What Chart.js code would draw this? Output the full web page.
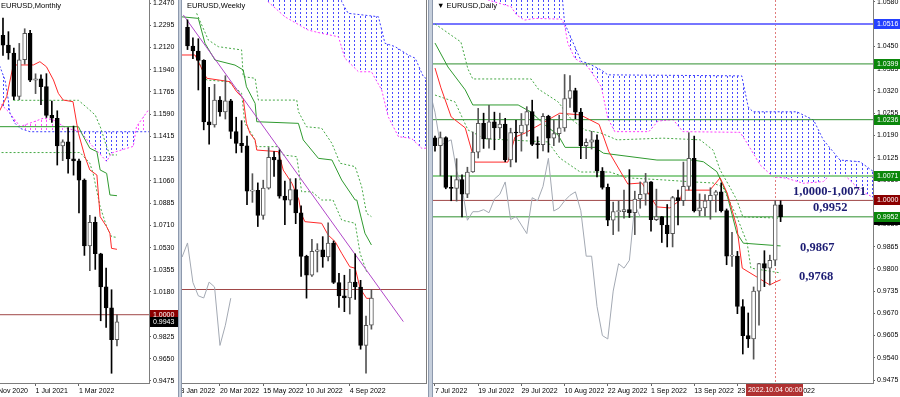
<!DOCTYPE html>
<html>
<head>
<meta charset="utf-8">
<script src="https://cdn.jsdelivr.net/npm/chart.js@4.4.0/dist/chart.umd.min.js"></script>
<style>
html, body { margin: 0; padding: 0; background: #fff; }
#wrap { position: relative; width: 900px; height: 397px; overflow: hidden; background: #fff; }
canvas { position: absolute; top: 0; }
#cM { left: 0; }
#cW { left: 182px; }
#cD { left: 433px; }
.sep { position: absolute; top: 0; height: 397px; background: #c6cfdc; border-left: 1px solid #8d99ad; border-right: 1px solid #8d99ad; box-sizing: border-box; }
</style>
</head>
<body>
<div id="wrap">
  <canvas id="cM" width="178" height="397"></canvas>
  <div class="sep" style="left:178px;width:4px"></div>
  <canvas id="cW" width="246" height="397"></canvas>
  <div class="sep" style="left:428px;width:5px"></div>
  <canvas id="cD" width="467" height="397"></canvas>
</div>
<script>
// ---------- monthly (index 0 = Jan 2021) ----------
const mOpen  = [1.2214,1.2136,1.2074,1.1729,1.2020,1.2229,1.1858,1.1870,1.1808,1.1579,1.1557,1.1338,1.1370,1.1235,1.1219,1.1067,1.0545,1.0733,1.0483,1.0220,1.0054,0.9802];
const mHigh  = [1.2350,1.2243,1.2113,1.2150,1.2266,1.2254,1.1909,1.1900,1.1910,1.1692,1.1616,1.1386,1.1483,1.1495,1.1233,1.1076,1.0787,1.0774,1.0487,1.0369,1.0198,0.9999];
const mLow   = [1.2055,1.2024,1.1704,1.1704,1.1986,1.1847,1.1752,1.1664,1.1563,1.1524,1.1186,1.1221,1.1121,1.1106,1.0806,1.0470,1.0349,1.0359,0.9952,0.9899,0.9536,0.9752];
const mClose = [1.2136,1.2074,1.1729,1.2020,1.2229,1.1858,1.1870,1.1808,1.1579,1.1557,1.1338,1.1370,1.1235,1.1219,1.1067,1.0545,1.0733,1.0483,1.0220,1.0054,0.9802,0.9943];
const mTenkan  = [[-1,1.1590],[-0.55,1.1622],[0.68,1.1728],[1.9,1.1979],[5.6,1.1979],[6.8,1.2005],[8.0,1.1965],[9.3,1.1860],[10.2,1.1754],[11.1,1.1701],[12.9,1.1688],[13.9,1.1438],[15.1,1.1252],[16.0,1.1147],[17.3,1.1107],[17.9,1.0777],[19.1,1.0697],[19.7,1.0645],[20.0,1.0526],[21,1.0518]];
const mKijun   = [[-1,1.1490],[13.9,1.1490],[14.5,1.1437],[16.0,1.1319],[17.3,1.1292],[17.9,1.1147],[19.1,1.1120],[19.7,1.0949],[21,1.0943]];
const mDashUp  = [[1.9,1.1699],[13.9,1.1699],[15.5,1.1640],[17.0,1.1582],[18.0,1.1480],[19.1,1.1331],[19.7,1.1266],[21,1.1266]];
const mDashLow = [[-1,1.1285],[14.2,1.1285],[16.0,1.1200],[16.6,1.1120],[17.9,1.0856],[19.1,1.0697],[20.0,1.0618],[21,1.0613]];
const mSpanA   = [[-1,1.2000],[-0.55,1.1965],[0.37,1.1860],[0.98,1.1701],[1.29,1.1596],[2.2,1.1517],[3.13,1.1477],[4.97,1.1450],[28,1.1450]];
const mSpanB   = [[-1,1.1685],[-0.55,1.1675],[1.29,1.1597],[3.13,1.1491],[4.97,1.1518],[7.43,1.1557],[9.27,1.1544],[11.7,1.1478],[14.2,1.1452],[16.0,1.1360],[19.1,1.1215],[20.0,1.1281],[24.0,1.1334],[24.6,1.1491],[26.8,1.1623],[28,1.1640]];
const mLevels  = [1.0000];
const mTickIdx  = [-2, 6, 14];
const mTickText = ['1 Nov 2020', '1 Jul 2021', '1 Mar 2022'];
const mPriceTicks = [1.2470,1.2295,1.2120,1.1940,1.1765,1.1590,1.1415,1.1235,1.1060,1.0885,1.0710,1.0530,1.0355,1.0180,1.0000,0.9825,0.9650,0.9475];
const mTagValues = [1.0000, 0.9943];

// ---------- weekly (index 0 = 6 Feb 2022) ----------
const wOpen  = [1.1453,1.1350,1.1322,1.1270,1.0929,1.0912,1.1050,1.0984,1.1046,1.0876,1.0810,1.0797,1.0545,1.0550,1.0410,1.0562,1.0733,1.0719,1.0518,1.0495,1.0554,1.0425,1.0184,1.0080,1.0211,1.0220,1.0180,1.0258,1.0039,0.9965,0.9953,1.0041,1.0014,0.9690,0.9802];
const wHigh  = [1.1495,1.1395,1.1390,1.1274,1.1121,1.1137,1.1069,1.1185,1.1054,1.0955,1.0936,1.0850,1.0642,1.0591,1.0606,1.0787,1.0764,1.0774,1.0601,1.0614,1.0615,1.0464,1.0190,1.0278,1.0254,1.0293,1.0369,1.0269,1.0090,1.0079,1.0112,1.0198,1.0051,0.9853,0.9999];
const wLow   = [1.1330,1.1280,1.1106,1.0885,1.0806,1.0900,1.0961,1.0945,1.0837,1.0757,1.0760,1.0470,1.0483,1.0349,1.0389,1.0556,1.0627,1.0506,1.0359,1.0469,1.0365,1.0072,0.9952,1.0073,1.0097,1.0123,1.0159,1.0033,0.9900,0.9877,0.9864,0.9945,0.9669,0.9536,0.9780];
const wClose = [1.1350,1.1322,1.1270,1.0929,1.0912,1.1050,1.0984,1.1046,1.0876,1.0810,1.0797,1.0545,1.0550,1.0410,1.0562,1.0733,1.0719,1.0518,1.0495,1.0554,1.0425,1.0184,1.0080,1.0211,1.0220,1.0180,1.0258,1.0039,0.9965,0.9953,1.0041,1.0014,0.9690,0.9802,0.9952];
const wTenkan  = [[-1.2,1.1300],[1.39,1.1300],[2.31,1.1244],[3.55,1.1171],[7.86,1.1152],[9.09,1.1096],[10.3,1.1060],[10.9,1.0921],[11.55,1.0866],[12.5,1.0829],[12.8,1.0773],[16.8,1.0764],[17.7,1.0662],[19.3,1.0589],[20.6,1.0496],[21.0,1.0422],[21.7,1.0376],[24.8,1.0367],[26.0,1.0302],[27.3,1.0265],[28.5,1.0201],[30.0,1.0126],[31.0,1.0118],[31.9,1.0007],[33.1,0.9951],[34,0.9951]];
const wKijun   = [[-1.2,1.1512],[2.0,1.1503],[3.23,1.1365],[5.08,1.1272],[8.78,1.1244],[10.3,1.1217],[10.9,1.1124],[12.5,1.1032],[12.8,1.0930],[20.5,1.0921],[21.4,1.0829],[24.2,1.0727],[26.7,1.0718],[28.5,1.0607],[31.0,1.0496],[31.3,1.0496],[32.8,1.0312],[34,1.0247]];
const wDashUp  = [[1.69,1.1531],[3.85,1.1383],[5.7,1.1346],[10.0,1.1328],[10.3,1.1180],[12.5,1.1171],[13.1,1.1050],[20.2,1.1050],[20.5,1.0986],[22.0,1.0902],[24.8,1.0894],[26.7,1.0810],[28.2,1.0700],[31.0,1.0681],[32.2,1.0570],[33.1,1.0422],[34,1.0404]];
const wDashLow = [[1.69,1.1290],[3.55,1.1161],[7.55,1.1152],[10.0,1.1088],[10.6,1.0921],[12.2,1.0847],[12.8,1.0792],[16.8,1.0792],[17.7,1.0746],[20.2,1.0736],[21.1,1.0542],[23.0,1.0542],[24.8,1.0496],[26.9,1.0496],[28.5,1.0385],[31.0,1.0367],[31.9,1.0201],[33.1,1.0099]];
const wSpanA   = [[14,1.1900],[28.2,1.1750],[28.5,1.1595],[29.7,1.1531],[35.3,1.1512],[36.5,1.1365],[38.4,1.1346],[40.8,1.1300],[42.1,1.1282],[43.6,1.1180],[45,1.1152]];
const wSpanB   = [[14,1.1750],[14.9,1.1595],[18.0,1.1512],[22.3,1.1438],[24.8,1.1420],[27.9,1.1401],[29.1,1.1282],[31.6,1.1207],[34.0,1.1207],[35.9,1.1106],[37.1,1.0958],[39.0,1.0847],[41.4,1.0838],[43.3,1.0783],[45,1.0783]];
const wTrend   = [[-0.78,1.1522],[39.9,0.9822]];
const wLevels  = [1.0000];
const wTickIdx  = [-2, 6, 14, 22, 30];
const wTickText = ['23 Jan 2022', '20 Mar 2022', '15 May 2022', '10 Jul 2022', '4 Sep 2022'];

// ---------- daily (index 0 = 7 Jul 2022) ----------
const dOpen  = [1.0183,1.0160,1.0184,1.0038,1.0035,1.0061,1.0018,1.0083,1.0141,1.0225,
                1.0180,1.0230,1.0212,1.0223,1.0118,1.0198,1.0197,1.0220,1.0260,1.0164,
                1.0163,1.0246,1.0182,1.0195,1.0212,1.0298,1.0321,1.0258,1.0160,1.0170,
                1.0177,1.0086,1.0038,0.9942,0.9967,0.9967,0.9973,0.9964,1.0004,1.0018,
                1.0054,0.9944,0.9953,0.9928,0.9903,1.0008,0.9999,1.0041,1.0123,0.9969,
                0.9978,0.9999,1.0015,1.0025,0.9970,0.9837,0.9837,0.9690,0.9605,0.9595,
                0.9735,0.9815,0.9802,0.9825,0.9987];
const dHigh  = [1.0188,1.0200,1.0186,1.0071,1.0122,1.0075,1.0097,1.0200,1.0269,1.0255,
                1.0278,1.0258,1.0255,1.0240,1.0211,1.0234,1.0254,1.0274,1.0293,1.0186,
                1.0254,1.0249,1.0235,1.0249,1.0368,1.0365,1.0328,1.0269,1.0180,1.0202,
                1.0192,1.0096,1.0048,0.9995,0.9998,1.0030,1.0090,1.0027,1.0054,1.0079,
                1.0055,1.0033,0.9953,0.9988,1.0012,1.0030,1.0112,1.0198,1.0188,1.0019,
                1.0017,1.0037,1.0029,1.0051,0.9975,0.9907,0.9851,0.9710,0.9671,0.9747,
                0.9816,0.9853,0.9840,0.9999,0.9999];
const dLow   = [1.0144,1.0072,1.0034,0.9999,0.9998,0.9952,1.0008,1.0082,1.0124,1.0152,
                1.0153,1.0148,1.0181,1.0113,1.0098,1.0112,1.0144,1.0188,1.0160,1.0123,
                1.0145,1.0141,1.0160,1.0170,1.0202,1.0272,1.0239,1.0122,1.0122,1.0150,
                1.0069,1.0033,0.9926,0.9900,0.9910,0.9948,0.9950,0.9900,0.9977,0.9986,
                0.9910,0.9941,0.9877,0.9864,0.9864,0.9928,0.9985,1.0030,0.9966,0.9955,
                0.9955,0.9945,0.9966,0.9966,0.9812,0.9807,0.9669,0.9551,0.9570,0.9536,
                0.9635,0.9748,0.9753,0.9809,0.9938];
const dClose = [1.0160,1.0184,1.0038,1.0035,1.0061,1.0018,1.0083,1.0141,1.0225,1.0180,
                1.0230,1.0212,1.0223,1.0118,1.0198,1.0197,1.0220,1.0260,1.0164,1.0163,
                1.0246,1.0182,1.0195,1.0212,1.0298,1.0321,1.0258,1.0160,1.0170,1.0177,
                1.0086,1.0038,0.9942,0.9967,0.9967,0.9973,0.9964,1.0004,1.0018,1.0054,
                0.9944,0.9953,0.9928,0.9903,1.0008,0.9999,1.0041,1.0123,0.9969,0.9978,
                0.9999,1.0015,1.0025,0.9970,0.9837,0.9837,0.9690,0.9605,0.9595,0.9735,
                0.9815,0.9802,0.9825,0.9987,0.9952];
const dTenkan  = [[0,1.0387],[1.1,1.0329],[3.0,1.0244],[5.6,1.0212],[7.4,1.0112],[13.5,1.0112],[14.8,1.0185],[16.7,1.0197],[23.1,1.0255],[26.9,1.0250],[30.4,1.0222],[32.2,1.0142],[35.7,1.0048],[38.3,1.0051],[41.1,0.9981],[43.5,0.9978],[45.4,1.0001],[45.9,1.0030],[50.9,1.0030],[52.8,1.0066],[54.1,1.0022],[55.9,0.9922],[56.9,0.9802],[62.0,0.9753],[63.0,0.9761],[64,0.9768]];
const dKijun   = [[0,1.0460],[2.4,1.0390],[5.6,1.0323],[7.0,1.0279],[15.4,1.0279],[17.8,1.0258],[20.4,1.0220],[22.8,1.0191],[24.1,1.0155],[29.6,1.0155],[31.2,1.0138],[41.1,1.0118],[47.8,1.0118],[49.7,1.0113],[52.2,1.0084],[54.0,1.0021],[55.9,0.9904],[57.1,0.9875],[64,0.9867]];
const dDashUp  = [[0,1.0516],[4.8,1.0463],[6.1,1.0384],[7.0,1.0355],[17.8,1.0355],[19.1,1.0326],[22.8,1.0288],[25.2,1.0238],[27.8,1.0206],[30.7,1.0197],[33.7,1.0177],[42.2,1.0182],[49.1,1.0177],[51.5,1.0147],[52.8,1.0089],[54.6,1.0039],[55.9,1.0001],[57.0,0.9952],[64,0.9948]];
const dDashLow = [[0,1.0308],[3.7,1.0288],[6.1,1.0206],[9.3,1.0180],[20.9,1.0171],[23.1,1.0124],[26.9,1.0083],[32.4,1.0083],[35.6,1.0066],[42.2,1.0060],[47.8,1.0054],[51.5,1.0051],[53.3,1.0039],[55.9,0.9952],[57.8,0.9876],[58.5,0.9802],[64,0.9788]];
const dSpanA   = [[9,1.0640],[23.3,1.0640],[24.0,1.0518],[27.1,1.0406],[28.3,1.0401],[30.8,1.0381],[32.0,1.0367],[56.8,1.0364],[58.0,1.0273],[58.9,1.0259],[67.0,1.0259],[70.1,1.0235],[71.9,1.0177],[75.0,1.0118],[78.7,1.0113],[82,1.0075]];
const dSpanB   = [[9,1.0620],[9.8,1.0586],[14.1,1.0566],[15.1,1.0542],[16.6,1.0527],[18.5,1.0532],[23.4,1.0530],[24.0,1.0513],[24.6,1.0459],[25.9,1.0415],[28.3,1.0391],[30.8,1.0332],[32.0,1.0240],[33.3,1.0201],[39.6,1.0201],[41.3,1.0232],[44.1,1.0236],[45.9,1.0201],[56.5,1.0199],[57.7,1.0170],[60.2,1.0104],[62.6,1.0069],[65.1,1.0065],[68.2,1.0050],[71.9,1.0055],[73.1,1.0074],[76.2,1.0069],[78.7,1.0030],[82,1.0001]];
const dLevels  = [1.0516, 1.0399, 1.0236, 1.0071, 1.0000, 0.9952];
const dTickIdx  = [0, 8, 16, 24, 32, 40, 48, 56, 64];
const dTickText = ['7 Jul 2022','19 Jul 2022','29 Jul 2022','10 Aug 2022','22 Aug 2022','1 Sep 2022','13 Sep 2022','23 Sep 2022','5 Oct 2022'];
const dPriceTicks = [1.0580,1.0515,1.0450,1.0385,1.0320,1.0255,1.0190,1.0125,1.0060,0.9995,0.9930,0.9865,0.9800,0.9735,0.9670,0.9605,0.9540,0.9475];
const dTagValues = [1.0516, 1.0399, 1.0236, 1.0071, 1.0000, 0.9943, 0.9952];
const dNoteText = ['1,0000-1,0071', '0,9952', '0,9867', '0,9768'];
const dCursorIdx = 63;
const dCursorText = '2022.10.04 00:00';

// ---------- styles ----------
const dLevelColors = ['#7676ff', '#2f8f2f', '#2f8f2f', '#8fcf8f', '#a04848', '#2f8f2f'];
const dLevelWidths = [2, 1, 1, 2, 1, 1];
const dTagColors   = ['#2440ff', '#0b870b', '#0b870b', '#0b870b', '#8b0000', '#000000', '#0b870b'];
const mTagColors   = ['#8b0000', '#000000'];
const dNoteAnchor  = [[66.3, 1.0025], [70.0, 0.9978], [67.6, 0.9861], [67.4, 0.9776]];

Chart.defaults.font.family = '"Liberation Sans", Arial, sans-serif';
Chart.defaults.font.size = 7;
Chart.defaults.color = '#000';

function toPoints(arr) {
    return arr.map(p => ({x: p[0], y: p[1]}));
}

// vertical dotted hatch, one stroke per bar (5 bars per 27px)
function hatch(color, offset) {
    const c = document.createElement('canvas');
    c.width = 27; c.height = 4;
    const g = c.getContext('2d');
    g.fillStyle = color;
    [0, 5, 11, 16, 22].forEach(x => g.fillRect(x, 0, 1, 2));
    const p = g.createPattern(c, 'repeat');
    p.setTransform(new DOMMatrix([1, 0, 0, 1, offset, 0]));
    return p;
}

function candles(open, high, low, close) {
    const up = close.map((c, i) => c >= open[i]);
    return [
        {
            type: 'bar', order: 0, grouped: false, barThickness: 4, minBarLength: 1,
            borderWidth: 1, borderSkipped: false,
            data: open.map((o, i) => ({x: i, y: [Math.min(o, close[i]), Math.max(o, close[i])]})),
            backgroundColor: up.map(u => u ? '#ffffff' : '#000000'),
            borderColor: up.map(u => u ? '#555555' : '#000000')
        },
        {
            type: 'bar', order: 1, grouped: false, barThickness: 1,
            data: low.map((l, i) => ({x: i, y: [l, high[i]]})),
            backgroundColor: up.map(u => u ? '#555555' : '#000000')
        }
    ];
}

function line(arr, color, extra) {
    return Object.assign({
        type: 'line', order: 3, data: toPoints(arr), borderColor: color,
        borderWidth: 1, pointRadius: 0, fill: false, tension: 0
    }, extra || {});
}

function cloud(spanA, spanB, offset) {
    return [
        line(spanA, '#3c3cff', {order: 8, borderDash: [2, 2],
            fill: {target: '+1', above: hatch('#4a4aff', offset), below: hatch('#ff50ff', offset)}}),
        line(spanB, '#ff3cff', {order: 8, borderDash: [2, 2]})
    ];
}

function levels(values, colors, widths, xMin, xMax) {
    return values.map((v, i) => line([[xMin, v], [xMax, v]], colors[i], {order: 5, borderWidth: widths[i]}));
}

function zeroPad(s) {
    s.paddingLeft = 0; s.paddingRight = 0; s.paddingTop = 0; s.paddingBottom = 0;
}

function options(xMin, xMax, yMin, yMax, xTicks, xText, yTicks, yWidth, decor) {
    const showY = yWidth > 5;
    return {
        responsive: false,
        animation: false,
        events: [],
        layout: {padding: 0, autoPadding: false},
        plugins: {legend: {display: false}, tooltip: {enabled: false}, decor: decor},
        scales: {
            x: {
                type: 'linear', min: xMin, max: xMax, offset: false, bounds: 'data',
                afterBuildTicks: s => { s.ticks = xTicks.map(v => ({value: v})); },
                afterFit: s => { s.height = 14; zeroPad(s); },
                ticks: {
                    autoSkip: false, maxRotation: 0, minRotation: 0, align: 'start', padding: 1,
                    callback: v => { const k = xTicks.indexOf(v); return k < 0 ? '' : xText[k]; }
                },
                grid: {drawOnChartArea: false, drawTicks: true, tickLength: 3, color: '#666', offset: false},
                border: {display: true, color: '#7d7d7d'}
            },
            y: {
                position: 'right', min: yMin, max: yMax, bounds: 'data',
                afterBuildTicks: s => { s.ticks = yTicks.map(v => ({value: v})); },
                afterFit: s => { s.width = yWidth; zeroPad(s); },
                ticks: {display: showY, padding: 2, callback: v => v.toFixed(4)},
                grid: {drawOnChartArea: false, drawTicks: showY, tickLength: 2, color: '#666'},
                border: {display: true, color: '#7d7d7d'}
            }
        }
    };
}

const decorPlugin = {
    id: 'decor',
    beforeDatasetsDraw(chart, args, o) {
        if (o.cursor === undefined) return;
        const ctx = chart.ctx, a = chart.chartArea;
        const px = Math.round(chart.scales.x.getPixelForValue(o.cursor)) + 0.5;
        ctx.save();
        ctx.strokeStyle = '#e07c7c';
        ctx.lineWidth = 1;
        ctx.setLineDash([2, 2]);
        ctx.beginPath();
        ctx.moveTo(px, a.top);
        ctx.lineTo(px, a.bottom);
        ctx.stroke();
        ctx.restore();
    },
    afterDraw(chart, args, o) {
        const ctx = chart.ctx, a = chart.chartArea, xs = chart.scales.x, ys = chart.scales.y;
        ctx.save();
        // panel title
        ctx.font = '7.5px "Liberation Sans", Arial, sans-serif';
        ctx.fillStyle = '#000';
        ctx.textAlign = 'left';
        ctx.textBaseline = 'top';
        ctx.fillText(o.title, a.left + o.titleX, 2);
        // price tags on the axis
        (o.tags || []).forEach((v, i) => {
            const y = Math.round(ys.getPixelForValue(v));
            ctx.fillStyle = o.tagColors[i];
            ctx.fillRect(a.right + 1, y - 5, chart.width - a.right - 1, 10);
            ctx.fillStyle = '#fff';
            ctx.font = '7px "Liberation Sans", Arial, sans-serif';
            ctx.textBaseline = 'middle';
            ctx.fillText(v.toFixed(4), a.right + 4, y + 0.5);
        });
        // analyst notes
        (o.notes || []).forEach((t, i) => {
            const p = o.noteAnchor[i];
            ctx.font = 'bold 12.5px "Liberation Serif", "Times New Roman", serif';
            ctx.fillStyle = '#1d1d74';
            ctx.textBaseline = 'middle';
            ctx.fillText(t, xs.getPixelForValue(p[0]), ys.getPixelForValue(p[1]));
        });
        // cursor date box
        if (o.cursor !== undefined) {
            const px = xs.getPixelForValue(o.cursor);
            ctx.font = '7px "Liberation Sans", Arial, sans-serif';
            const w = ctx.measureText(o.cursorText).width + 3;
            ctx.fillStyle = '#b03232';
            ctx.fillRect(Math.round(px - w / 2), a.bottom + 1, Math.round(w), 12);
            ctx.fillStyle = '#fff';
            ctx.textAlign = 'center';
            ctx.textBaseline = 'middle';
            ctx.fillText(o.cursorText, px, a.bottom + 7.5);
        }
        ctx.restore();
    }
};

// ---------- monthly chart ----------
const mX = [-0.55, 26.9];
new Chart(document.getElementById('cM'), {
    type: 'bar',
    data: {
        datasets: [
            ...candles(mOpen, mHigh, mLow, mClose),
            line(mTenkan, '#ff2a2a'),
            line(mKijun, '#2f9a2f'),
            line(mDashUp, '#45a845', {borderDash: [2, 2]}),
            line(mDashLow, '#45a845', {borderDash: [2, 2]}),
            ...levels(mLevels, ['#a04848'], [1], mX[0], mX[1]),
            ...cloud(mSpanA, mSpanB, 3)
        ]
    },
    options: options(mX[0], mX[1], 0.94589, 1.24938, mTickIdx, mTickText, mPriceTicks, 29,
        {title: 'EURUSD,Monthly', titleX: 1, tags: mTagValues, tagColors: mTagColors}),
    plugins: [decorPlugin]
});

// ---------- weekly chart ----------
const wX = [-1.017, 44.09];
new Chart(document.getElementById('cW'), {
    type: 'bar',
    data: {
        datasets: [
            ...candles(wOpen, wHigh, wLow, wClose),
            line(wTenkan, '#ff2a2a'),
            line(wKijun, '#2f9a2f'),
            line(wDashUp, '#45a845', {borderDash: [2, 2]}),
            line(wDashLow, '#45a845', {borderDash: [2, 2]}),
            line(wClose.map((c, i) => [i - 26, c]), '#a3a9b3', {order: 4}),
            line(wTrend, '#b046c8', {order: 2}),
            ...levels(wLevels, ['#a04848'], [1], wX[0], wX[1]),
            ...cloud(wSpanA, wSpanB, 5)
        ]
    },
    options: options(wX[0], wX[1], 0.94817, 1.16048, wTickIdx, wTickText, [], 2,
        {title: 'EURUSD,Weekly', titleX: 5}),
    plugins: [decorPlugin]
});

// ---------- daily chart ----------
const dX = [-0.37, 81.11];
new Chart(document.getElementById('cD'), {
    type: 'bar',
    data: {
        datasets: [
            ...candles(dOpen, dHigh, dLow, dClose),
            line(dTenkan, '#ff2a2a'),
            line(dKijun, '#2f9a2f'),
            line(dDashUp, '#45a845', {borderDash: [2, 2]}),
            line(dDashLow, '#45a845', {borderDash: [2, 2]}),
            line(dClose.map((c, i) => [i - 26, c]), '#a3a9b3', {order: 4}),
            ...levels(dLevels, dLevelColors, dLevelWidths, dX[0], dX[1]),
            ...cloud(dSpanA, dSpanB, 2)
        ]
    },
    options: options(dX[0], dX[1], 0.94663, 1.05858, dTickIdx, dTickText, dPriceTicks, 27,
        {title: '\u25BC EURUSD,Daily', titleX: 4, tags: dTagValues, tagColors: dTagColors,
         notes: dNoteText, noteAnchor: dNoteAnchor, cursor: dCursorIdx, cursorText: dCursorText}),
    plugins: [decorPlugin]
});
</script>
</body>
</html>
